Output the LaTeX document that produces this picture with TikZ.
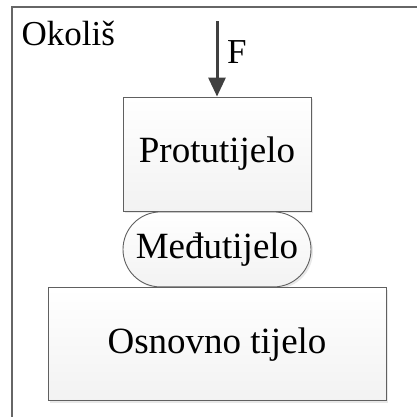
\documentclass[tikz,border=0pt]{standalone}
\usepackage{fontspec}
\setmainfont{Liberation Serif}
\usetikzlibrary{positioning,arrows.meta,shapes.misc,shadows}

\begin{document}
\begin{tikzpicture}[x=1pt,y=-1pt,
        body/.style={draw=gray!75!black,top color=white,bottom color=gray!10,line width=0.9pt,inner sep=0pt,
            font=\fontsize{37}{40}\selectfont,
            drop shadow={opacity=0.18,shadow xshift=2pt,shadow yshift=-2pt}},
        force/.style={-{Triangle[length=19pt,width=17pt]},line width=3pt,color=black!75}]
    \useasboundingbox (0,0) rectangle (417,416);
	\draw[line width=1.8pt, color=black!60] (12,7) rectangle (440,440);
    \node[anchor=base west, font=\fontsize{35}{37}\selectfont] (okolis) at (18,45) {Okoliš};

\node[body, minimum width=188pt, minimum height=114pt] (proto) at (217,154) {Protutijelo};
\node[body, rounded rectangle, minimum width=188pt, minimum height=75pt, below=0pt of proto] (medju) {Međutijelo};
\node[body, minimum width=338pt, minimum height=113pt, below=0pt of medju] (osnovno) {Osnovno tijelo};

\coordinate (ftop) at (217,21);
\draw[force] (ftop) -- (proto.north);
\node[anchor=base west, inner sep=0pt, font=\fontsize{35}{37}\selectfont] (F) at (227,63) {F};

\end{tikzpicture}
\end{document}
